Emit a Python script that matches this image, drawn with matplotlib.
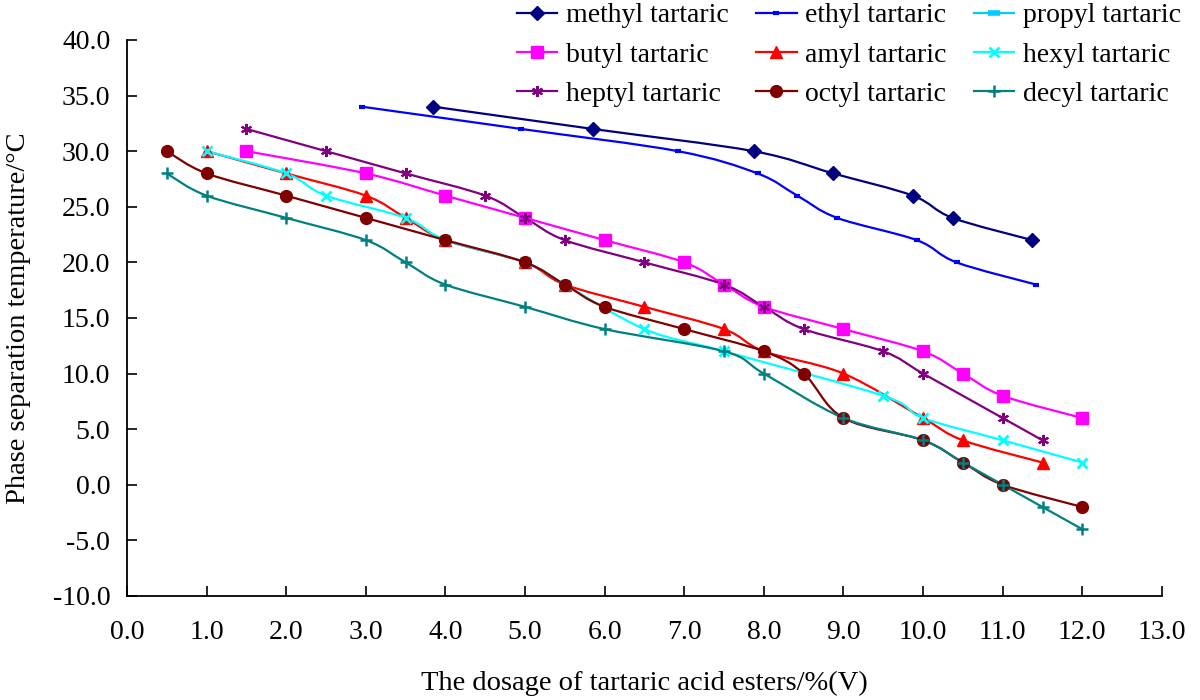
import numpy as np
import matplotlib
matplotlib.use("Agg")
import matplotlib.pyplot as plt
from matplotlib.path import Path
from matplotlib.patches import PathPatch
from matplotlib.lines import Line2D
from matplotlib.ticker import MultipleLocator, FormatStrFormatter

plt.rcParams['font.family'] = ['Liberation Serif', 'DejaVu Serif']

# data
methyl_x = [3.85, 5.85, 7.87, 8.87, 9.87, 10.37, 11.37]
methyl_y = [34, 32, 30, 28, 26, 24, 22]
ethyl_x = [2.95, 4.95, 6.92, 7.92, 8.42, 8.92, 9.92, 10.42, 11.42]
ethyl_y = [34, 32, 30, 28, 26, 24, 22, 20, 18]
propyl_x = []
propyl_y = []
butyl_x = [1.5, 3.0, 4.0, 5.0, 6.0, 7.0, 7.5, 8.0, 9.0, 10.0, 10.5, 11.0, 12.0]
butyl_y = [30, 28, 26, 24, 22, 20, 18, 16, 14, 12, 10, 8, 6]
amyl_x = [1.0, 2.0, 3.0, 3.5, 4.0, 5.0, 5.5, 6.5, 7.5, 8.0, 9.0, 10.0, 10.5, 11.5]
amyl_y = [30, 28, 26, 24, 22, 20, 18, 16, 14, 12, 10, 6, 4, 2]
hexyl_x = [1.0, 2.0, 2.5, 3.5, 4.0, 5.0, 5.5, 6.5, 7.5, 9.5, 10.0, 11.0, 12.0]
hexyl_y = [30, 28, 26, 24, 22, 20, 18, 14, 12, 8, 6, 4, 2]
heptyl_x = [1.5, 2.5, 3.5, 4.5, 5.0, 5.5, 6.5, 7.5, 8.0, 8.5, 9.5, 10.0, 11.0, 11.5]
heptyl_y = [32, 30, 28, 26, 24, 22, 20, 18, 16, 14, 12, 10, 6, 4]
octyl_x = [0.5, 1.0, 2.0, 3.0, 4.0, 5.0, 5.5, 6.0, 7.0, 8.0, 8.5, 9.0, 10.0, 10.5, 11.0, 12.0]
octyl_y = [30, 28, 26, 24, 22, 20, 18, 16, 14, 12, 10, 6, 4, 2, 0, -2]
decyl_x = [0.5, 1.0, 2.0, 3.0, 3.5, 4.0, 5.0, 6.0, 7.5, 8.0, 9.0, 10.0, 10.5, 11.0, 11.5, 12.0]
decyl_y = [28, 26, 24, 22, 20, 18, 16, 14, 12, 10, 6, 4, 2, 0, -2, -4]

labels = ['methyl tartaric', 'ethyl tartaric', 'propyl tartaric',
          'butyl tartaric', 'amyl tartaric', 'hexyl tartaric',
          'heptyl tartaric', 'octyl tartaric', 'decyl tartaric']
xs = [methyl_x, ethyl_x, propyl_x, butyl_x, amyl_x, hexyl_x, heptyl_x, octyl_x, decyl_x]
ys = [methyl_y, ethyl_y, propyl_y, butyl_y, amyl_y, hexyl_y, heptyl_y, octyl_y, decyl_y]
colors = ['#000080', '#0000FF', '#00CCFF', '#FF00FF', '#FF0000',
          '#00FFFF', '#800080', '#800000', '#008080']
markers = ['D', '_', '_', 's', '^', 'x', (6, 2, 0), 'o', '+']
msizes = [7.5, 5, 8, 8, 9, 7, 8, 8.5, 8]
mews = [1, 3, 4, 1, 1, 2, 1.5, 1, 1.8]


def smooth_path(x, y):
    # Excel-like smoothed line: cubic bezier through every point
    pts = np.column_stack([x, y]).astype(float)
    n = len(pts)
    verts = [pts[0]]
    codes = [Path.MOVETO]
    for i in range(n - 1):
        p0 = pts[max(i - 1, 0)]
        p1 = pts[i]
        p2 = pts[i + 1]
        p3 = pts[min(i + 2, n - 1)]
        c1 = p1 + (p2 - p0) / 6.0
        c2 = p2 - (p3 - p1) / 6.0
        verts += [c1, c2, p2]
        codes += [Path.CURVE4] * 3
    return Path(verts, codes)


fig = plt.figure(figsize=(12, 7), dpi=100)
ax = fig.add_axes([0.1058, 0.1486, 0.8625, 0.7943])

handles = []
for x, y, c, m, ms, mew, lab in zip(xs, ys, colors, markers, msizes, mews, labels):
    if len(x) > 1:
        ax.add_patch(PathPatch(smooth_path(x, y), facecolor='none',
                               edgecolor=c, lw=1.6))
    ax.plot(x, y, linestyle='none', marker=m, markersize=ms, color=c,
            markeredgewidth=mew)
    handles.append(Line2D([], [], color=c, lw=1.6, marker=m, markersize=ms,
                          markeredgewidth=mew, label=lab))

ax.set_xlim(0, 13)
ax.set_ylim(-10, 40)
ax.xaxis.set_major_locator(MultipleLocator(1))
ax.yaxis.set_major_locator(MultipleLocator(5))
ax.xaxis.set_major_formatter(FormatStrFormatter('%.1f'))
ax.yaxis.set_major_formatter(FormatStrFormatter('%.1f'))
ax.tick_params(direction='in', length=7, width=1.2, labelsize=20)
ax.tick_params(axis='x', pad=17)
ax.tick_params(axis='y', pad=12)
for s in ['top', 'right']:
    ax.spines[s].set_visible(False)
for s in ['left', 'bottom']:
    ax.spines[s].set_linewidth(1.3)

ax.set_xlabel('The dosage of tartaric acid esters/%(V)', fontsize=20.5, labelpad=19)
ax.set_ylabel('Phase separation temperature/°C', fontsize=20.5)
ax.yaxis.set_label_coords(-0.093, 0.5)

order = [0, 3, 6, 1, 4, 7, 2, 5, 8]
fig.legend([handles[i] for i in order], [labels[i] for i in order],
           ncol=3, loc='upper left', bbox_to_anchor=(0.431, 0.996), frameon=False,
           fontsize=20, handlelength=1.45, handletextpad=0.3,
           columnspacing=1.0, labelspacing=0.5, borderpad=0, borderaxespad=0)

fig.savefig('out.png', dpi=100)
